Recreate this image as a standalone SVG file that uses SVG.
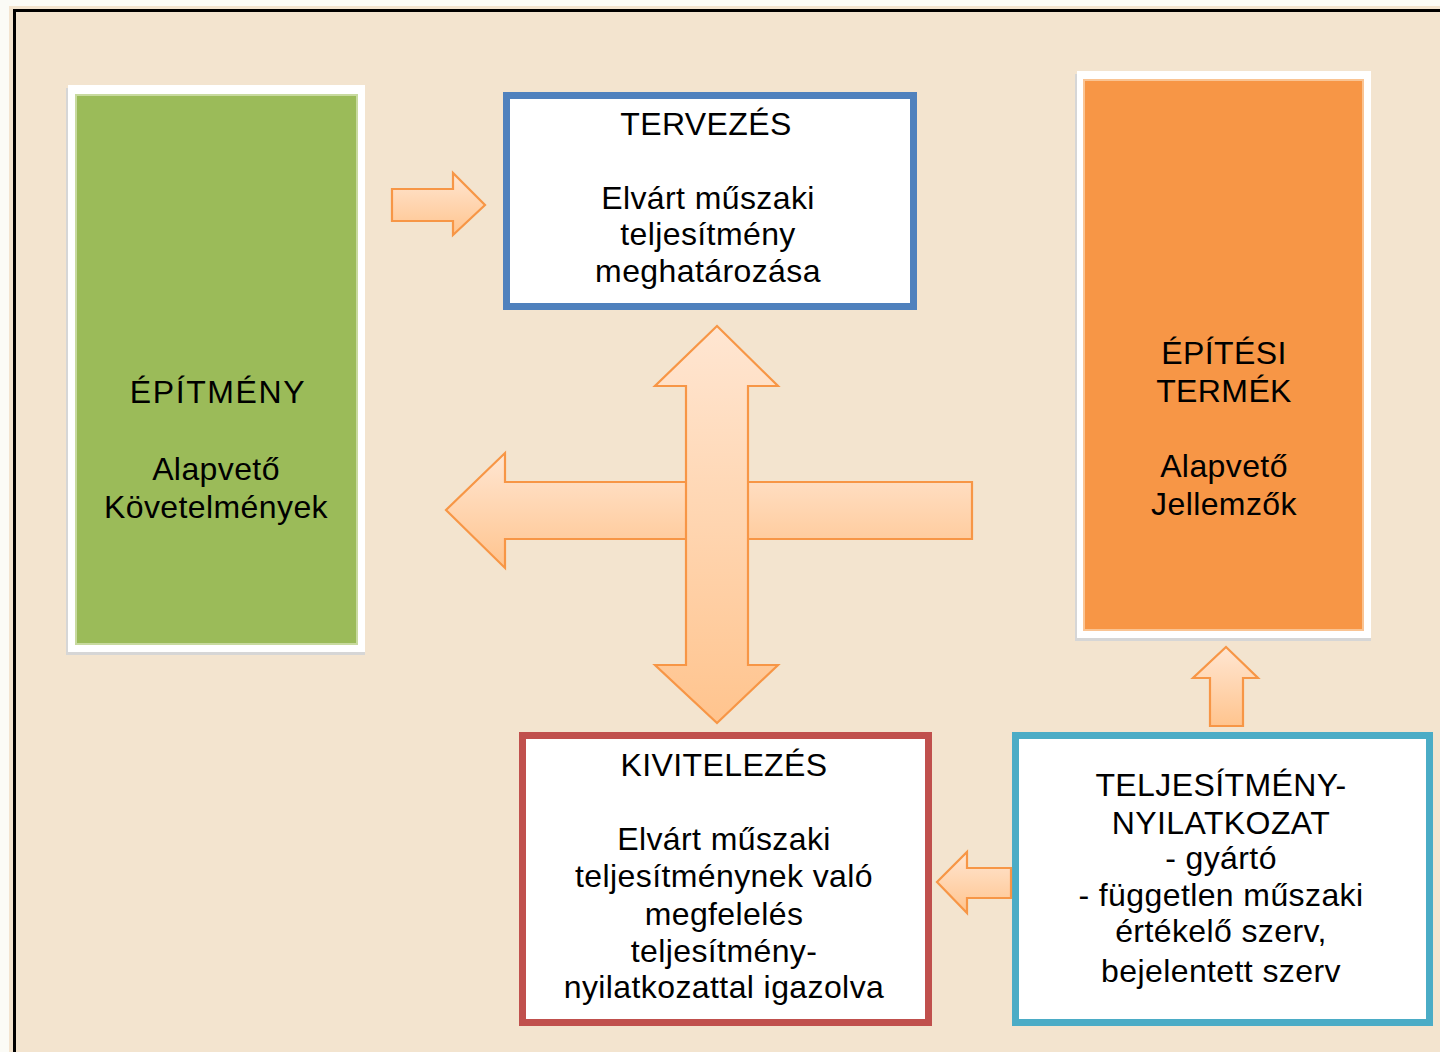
<svg xmlns="http://www.w3.org/2000/svg" width="1440" height="1052" viewBox="0 0 1440 1052">
<defs>
<linearGradient id="ag" x1="0" y1="0" x2="0" y2="1">
<stop offset="0" stop-color="#ffe6d2"/>
<stop offset="1" stop-color="#ffc48e"/>
</linearGradient>
<style>
.t{font-family:"Liberation Sans",Arial,sans-serif;font-size:32px;fill:#000;text-anchor:middle;letter-spacing:0.4px}
.arr{fill:url(#ag);stroke:#f79646;stroke-width:2.2;stroke-linejoin:miter}
.sh{fill:#d6d6d6}
.fr{fill:#fff}
.bx{fill:#fff;stroke-width:7}
</style>
</defs>
<rect x="0" y="0" width="1440" height="1052" fill="#fbfbf6"/>
<rect x="9" y="6" width="1431" height="1046" fill="#f3e4cf"/>
<rect x="14.5" y="10.5" width="1440" height="1060" fill="none" stroke="#000" stroke-width="3"/>

<g id="epitmeny">
<rect class="sh" x="66" y="88" width="299" height="567"/>
<rect class="fr" x="68" y="85" width="297" height="567"/>
<rect x="75" y="94" width="283" height="551" fill="#c8da9f"/>
<rect x="77" y="96" width="279" height="547" fill="#9bbb59"/>
<text class="t" x="218" y="403" style="letter-spacing:1.6px">ÉPÍTMÉNY</text>
<text class="t" x="216" y="480">Alapvető</text>
<text class="t" x="216" y="518">Követelmények</text>
</g>

<g id="termek">
<rect class="sh" x="1075" y="74" width="296" height="567"/>
<rect class="fr" x="1077" y="71" width="294" height="567"/>
<rect x="1083" y="79" width="281" height="552" fill="#fac493"/>
<rect x="1085" y="81" width="277" height="548" fill="#f79646"/>
<text class="t" x="1224" y="364">ÉPÍTÉSI</text>
<text class="t" x="1224" y="402">TERMÉK</text>
<text class="t" x="1224" y="477">Alapvető</text>
<text class="t" x="1224" y="515">Jellemzők</text>
</g>

<g id="tervezes">
<rect class="bx" x="506.5" y="95.5" width="407" height="211" stroke="#4f81bd"/>
<text class="t" x="706" y="135">TERVEZÉS</text>
<text class="t" x="708" y="209">Elvárt műszaki</text>
<text class="t" x="708" y="245">teljesítmény</text>
<text class="t" x="708" y="282">meghatározása</text>
</g>

<g id="kivitelezes">
<rect class="bx" x="522.5" y="735.5" width="406" height="287" stroke="#c0504d"/>
<text class="t" x="724" y="776">KIVITELEZÉS</text>
<text class="t" x="724" y="850">Elvárt műszaki</text>
<text class="t" x="724" y="887">teljesítménynek való</text>
<text class="t" x="724" y="925">megfelelés</text>
<text class="t" x="724" y="962">teljesítmény-</text>
<text class="t" x="724" y="998">nyilatkozattal igazolva</text>
</g>

<g id="nyilatkozat">
<rect class="bx" x="1015.5" y="735.5" width="414" height="287" stroke="#4bacc6"/>
<text class="t" x="1221" y="796">TELJESÍTMÉNY-</text>
<text class="t" x="1221" y="834">NYILATKOZAT</text>
<text class="t" x="1221" y="869">- gyártó</text>
<text class="t" x="1221" y="906">- független műszaki</text>
<text class="t" x="1221" y="942">értékelő szerv,</text>
<text class="t" x="1221" y="982">bejelentett szerv</text>
</g>

<g id="connectors">
<path class="arr" d="M392,189 H453 V173 L485,205 L453,235 V221 H392 Z"/>
<path class="arr" d="M972,482 H505 V453 L446,510 L505,568 V539 H972 Z"/>
<path class="arr" d="M717,326 L778,386 H748 V665 H778 L717,723 L655,665 H686 V386 H655 Z"/>
<path class="arr" d="M1226,647 L1258,678 H1243 V726 H1210 V678 H1193 Z"/>
<path class="arr" d="M937,882 L967,852 V868 H1011 V898 H967 V913 Z"/>
</g>
</svg>
